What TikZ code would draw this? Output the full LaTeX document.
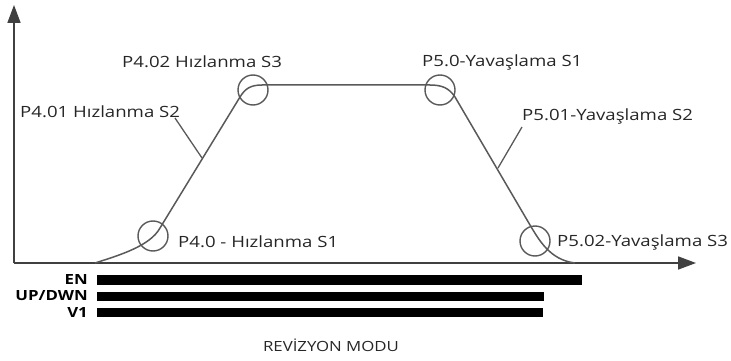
\documentclass[tikz,border=0pt]{standalone}
\usepackage{fontspec}
\setmainfont{Open Sans}
\usetikzlibrary{arrows.meta}
\begin{document}
\begin{tikzpicture}[x=1pt,y=-1pt,
  curve/.style={draw=black!65,line width=1.5pt},
  ring/.style={circle,draw=black!65,line width=1.4pt,minimum size=30pt,inner sep=0pt},
  lbl/.style={inner sep=0pt,anchor=west,xscale=1.2,font=\fontsize{15.5}{18}\selectfont,text=black!85},
  sig/.style={inner sep=0pt,anchor=east,xscale=1.2,font=\fontsize{14}{16}\selectfont\bfseries},
  bar/.style={fill=black},
  axis/.style={draw=black!75,line width=1.6pt,-{Triangle[length=18pt,width=13pt]}}]
\useasboundingbox (0,0) rectangle (731,361);
% axes
\coordinate (o) at (14,263);
\coordinate (ytip) at (14,5);
\coordinate (xtip) at (696,263);
\draw[axis] (o) -- (ytip);
\draw[axis] (o) -- (xtip);
% profile
\draw[curve] (95,263) .. controls (120,255) and (150,246) .. (160,228)
  -- (240,97) .. controls (245,89) and (250,85) .. (262,85)
  -- (430,85) .. controls (442,85) and (449,88) .. (455,97)
  -- (530,225) .. controls (539,240) and (550,260) .. (575,263);
% rings
\node[ring] (r1) at (153,236) {};
\node[ring] (r2) at (253,90) {};
\node[ring] (r3) at (440,90) {};
\node[ring] (r4) at (535,241) {};
% labels
\node[lbl] (l1) at (178,242) {P4.0 - Hızlanma S1};
\node[lbl] (l2) at (20,112) {P4.01 Hızlanma S2};
\node[lbl] (l3) at (122,62) {P4.02 Hızlanma S3};
\node[lbl] (l4) at (422,62) {P5.0-Yavaşlama S1};
\node[lbl] (l5) at (522,116) {P5.01-Yavaşlama S2};
\node[lbl] (l6) at (557,242) {P5.02-Yavaşlama S3};
% leaders
\coordinate (p2) at (202,158);
\coordinate (p5) at (498,168);
\draw[curve,line width=1.3pt] (175,118) -- (p2);
\draw[curve,line width=1.3pt] (522,127) -- (p5);
% signal bars
\fill[bar] (97,275) rectangle (582,285);
\fill[bar] (97,292) rectangle (544,301);
\fill[bar] (97,308) rectangle (543,317);
\node[sig] (s1) at (88,279.5) {EN};
\node[sig] (s2) at (88,296) {UP/DWN};
\node[sig] (s3) at (88,312.5) {V1};
\node[inner sep=0pt,xscale=1.2,font=\fontsize{14}{16}\selectfont,text=black!85] (t) at (331,345) {REVİZYON MODU};
\end{tikzpicture}
\end{document}
